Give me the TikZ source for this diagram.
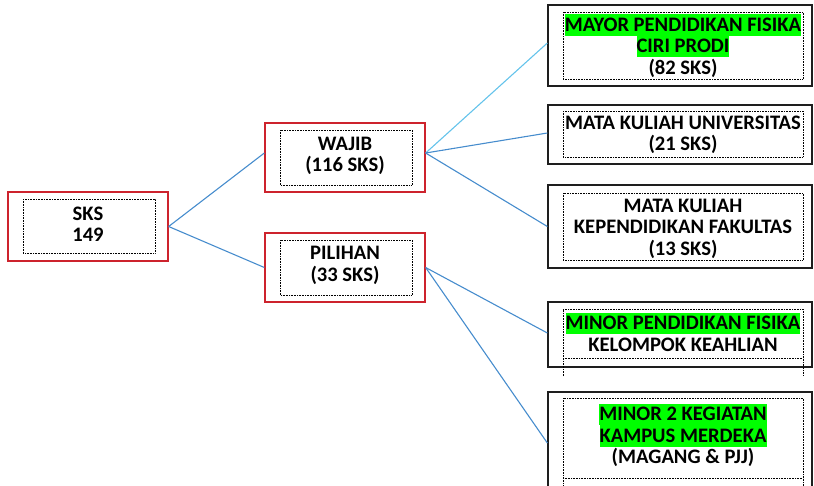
\documentclass[tikz,border=0pt]{standalone}
\usepackage{fontspec}
\setmainfont{Carlito}
\usetikzlibrary{calc}
\definecolor{hlg}{RGB}{0,255,0}
\definecolor{redb}{RGB}{205,35,45}
\definecolor{blkb}{RGB}{30,30,30}
\definecolor{conn}{RGB}{70,140,205}
\definecolor{connl}{RGB}{100,195,235}
\newcommand{\hlx}[1]{{\setlength{\fboxsep}{0pt}\colorbox{hlg}{\rule[-4.5pt]{0pt}{21.5pt}#1}}}
\tikzset{
  redbox/.style={draw=redb, line width=1.3pt, inner sep=0pt},
  blkbox/.style={draw=blkb, line width=1.3pt, inner sep=0pt},
  dotbox/.style={draw=black, line width=0.6pt, densely dotted},
  txt/.style={font=\bfseries\fontsize{20.6}{21.5}\selectfont, align=center, inner sep=0pt},
  con/.style={draw=conn, line width=1.1pt},
  conl/.style={draw=connl, line width=1.1pt}
}
\begin{document}
\begin{tikzpicture}[x=1pt,y=-1pt]
\useasboundingbox (0,0) rectangle (814,485);
\clip (0,0) rectangle (814,485);
% left column
\node[redbox, minimum width=160, minimum height=69] (sks) at (88,226.5) {};
\draw[dotbox] (23,199) rectangle (155,253);
\node[txt] (tsks) at (88,224) {SKS\\149};
\node[redbox, minimum width=160, minimum height=69] (waj) at (345,157.5) {};
\draw[dotbox] (280,130) rectangle (412,185);
\node[txt] (twaj) at (345,156) {WAJIB\\(116 SKS)};
\node[redbox, minimum width=160, minimum height=69] (pil) at (345,267.5) {};
\draw[dotbox] (280,240) rectangle (412,295);
\node[txt] (tpil) at (345,265.5) {PILIHAN\\(33 SKS)};
% right column
\node[blkbox, minimum width=264, minimum height=81] (b1) at (680,45.5) {};
\draw[dotbox] (563,12) rectangle (803,79);
\node[txt] (t1) at (683,46) {\hlx{MAYOR PENDIDIKAN FISIKA}\\\hlx{CIRI PRODI}\\(82 SKS)};
\node[blkbox, minimum width=264, minimum height=59] (b2) at (680,134.5) {};
\draw[dotbox] (563,111) rectangle (803,157);
\node[txt] (t2) at (683,135) {MATA KULIAH UNIVERSITAS\\(21 SKS)};
\node[blkbox, minimum width=264, minimum height=83] (b3) at (680,226.5) {};
\draw[dotbox] (563,193) rectangle (803,260);
\node[txt] (t3) at (683,228.5) {MATA KULIAH\\KEPENDIDIKAN FAKULTAS\\(13 SKS)};
\node[blkbox, minimum width=264, minimum height=65] (b4) at (680,334.5) {};
\draw[dotbox] (563,376) -- (563,309) -- (803,309) -- (803,376);
\draw[dotbox] (563,358) -- (803,358);
\node[txt] (t4) at (683,332) {\hlx{MINOR PENDIDIKAN FISIKA}\\KELOMPOK KEAHLIAN};
\node[blkbox, minimum width=264, minimum height=102] (b5) at (680,443) {};
\draw[dotbox] (563,490) -- (563,398) -- (803,398) -- (803,490);
\draw[dotbox] (563,478) -- (803,478);
\node[txt] (t5) at (683,435.5) {\hlx{MINOR 2 KEGIATAN}\\\hlx{KAMPUS MERDEKA}\\(MAGANG \& PJJ)};
% connectors
\draw[con] (sks.east) -- ($(waj.west)+(0,-4.5)$);
\draw[con] (sks.east) -- (pil.west);
\draw[conl] ($(waj.east)+(0,-4.5)$) -- ($(b1.west)+(0,-2.5)$);
\draw[con] ($(waj.east)+(0,-4.5)$) -- ($(b2.west)+(0,-1.5)$);
\draw[con] ($(waj.east)+(0,-4.5)$) -- (b3.west);
\draw[con] (pil.east) -- ($(b4.west)+(0,-1.5)$);
\draw[con] (pil.east) -- (b5.west);
\end{tikzpicture}
\end{document}
